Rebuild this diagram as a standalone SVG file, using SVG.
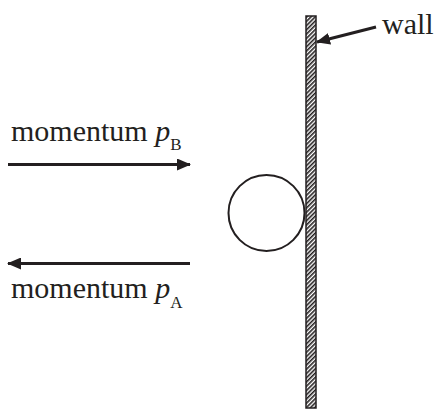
<svg xmlns="http://www.w3.org/2000/svg" width="434" height="409" viewBox="0 0 434 409">
<style>
.lbl{font-family:"Liberation Serif","Times New Roman",serif;font-size:30px;fill:#231f20}
.it{font-style:italic}
.sub{font-size:17px}
.ln{stroke:#231f20;stroke-width:3;fill:none}
</style>
<defs>
<pattern id="hatch" patternUnits="userSpaceOnUse" width="3" height="3" patternTransform="rotate(-45)">
<rect width="3" height="3" fill="#fff"/>
<rect width="3" height="1.6" fill="#231f20"/>
</pattern>
<marker id="ah" viewBox="0 0 14 12" refX="13" refY="6" markerWidth="14" markerHeight="12" markerUnits="userSpaceOnUse" orient="auto">
<path d="M0,0 L14,6 L0,12 Z" fill="#231f20"/>
</marker>
</defs>
<g id="wall">
<rect x="306" y="16" width="10" height="392" fill="url(#hatch)" stroke="#231f20" stroke-width="1.5"/>
<text class="lbl" x="382" y="34">wall</text>
</g>
<g id="ball">
<circle cx="266.5" cy="213" r="38" fill="#fff" stroke="#231f20" stroke-width="2"/>
</g>
<g id="label-pB">
<text class="lbl" x="11" y="141">momentum <tspan class="it">p</tspan><tspan class="sub" dy="9">B</tspan></text>
</g>
<g id="label-pA">
<text class="lbl" x="11" y="298">momentum <tspan class="it">p</tspan><tspan class="sub" dy="10">A</tspan></text>
</g>
<g id="connectors">
<line class="ln" x1="8" y1="164.5" x2="190" y2="164.5" marker-end="url(#ah)"/>
<line class="ln" x1="190" y1="263.5" x2="8" y2="263.5" marker-end="url(#ah)"/>
<line class="ln" x1="376" y1="27" x2="317" y2="42" marker-end="url(#ah)"/>
</g>
</svg>
